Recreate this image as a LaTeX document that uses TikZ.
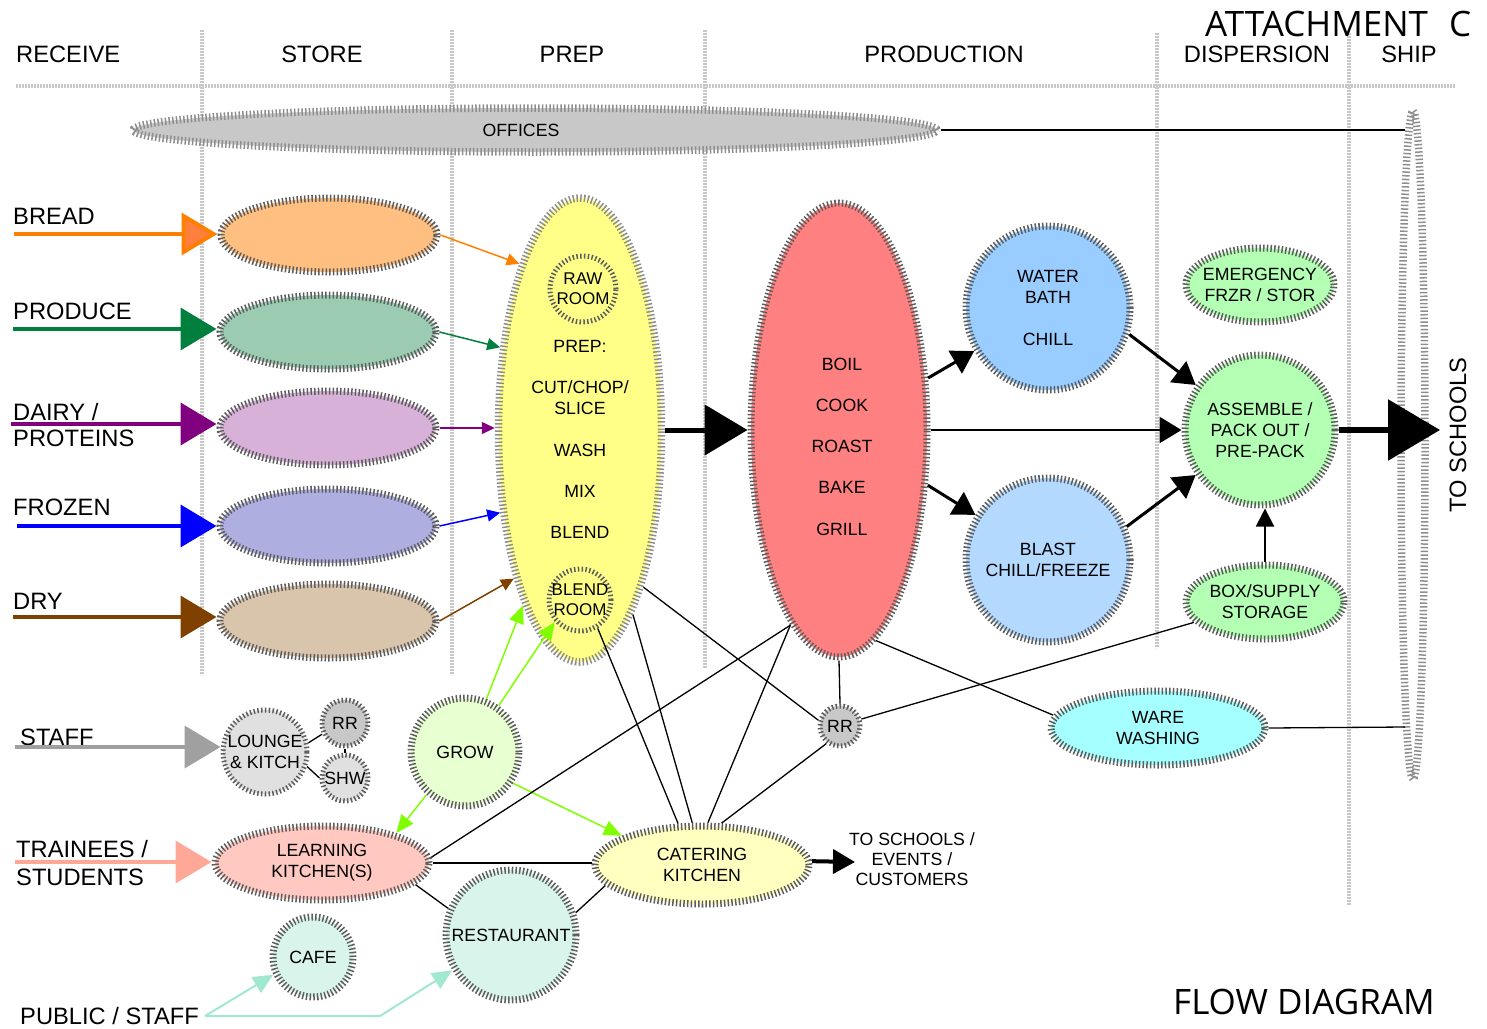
\documentclass[tikz,border=0pt]{standalone}
\usepackage{fontspec}
\setmainfont{Liberation Sans}
\newfontfamily\titlefont{Open Sans}
\usetikzlibrary{shapes.geometric,arrows.meta}
\newcommand{\fsz}[2]{\fontsize{#1}{#2}\selectfont}
\definecolor{hatchc}{HTML}{5E5E5E}
\definecolor{hatchl}{HTML}{8E8E8E}
\definecolor{gridc}{HTML}{C8C8C8}
\definecolor{cOr}{HTML}{FF8000}
\definecolor{cOrH}{HTML}{FF7F3F}
\definecolor{cGrn}{HTML}{007F3F}
\definecolor{cPur}{HTML}{800080}
\definecolor{cBlu}{HTML}{0000FF}
\definecolor{cBrn}{HTML}{804000}
\definecolor{cStaff}{HTML}{A0A0A0}
\definecolor{cTrain}{HTML}{FFA898}
\definecolor{cLime}{HTML}{80FF00}
\definecolor{cAqua}{HTML}{A0E8D0}
\definecolor{fBread}{HTML}{FFBF80}
\definecolor{fProduce}{HTML}{9BCCB2}
\definecolor{fDairy}{HTML}{D8B1D8}
\definecolor{fFroz}{HTML}{AEAFE0}
\definecolor{fDry}{HTML}{D9C4AC}
\definecolor{fPrep}{HTML}{FFFF88}
\definecolor{fProdn}{HTML}{FF8080}
\definecolor{fWater}{HTML}{99CCFF}
\definecolor{fBlast}{HTML}{B3D9FF}
\definecolor{fGreen}{HTML}{B3FFB3}
\definecolor{fWare}{HTML}{A6FFFF}
\definecolor{fLounge}{HTML}{E0E0E0}
\definecolor{fRR}{HTML}{C8C8C8}
\definecolor{fGrow}{HTML}{E8FFD2}
\definecolor{fLearn}{HTML}{FFC8C0}
\definecolor{fCater}{HTML}{FFFFC0}
\definecolor{fRest}{HTML}{D9F5EB}
\definecolor{fOff}{HTML}{C8C8C8}
\begin{document}
\begin{tikzpicture}[x=1pt,y=-1pt,
  hatch/.style={draw=hatchc,line width=7pt,dash pattern=on 1.5pt off 2.2pt},
  hatchlt/.style={draw=hatchl,line width=7.5pt,dash pattern=on 1.5pt off 2.2pt},
  hatchsm/.style={draw=hatchc,line width=5pt,dash pattern=on 1.5pt off 2.3pt},
  gridln/.style={draw=gridc,line width=3.5pt,dash pattern=on 2pt off 1pt},
  ell/.style={ellipse,inner sep=0pt},
  circ/.style={circle,inner sep=0pt},
  lbl/.style={inner sep=0pt,font=\fsz{17.7}{21},align=center},
  hdr/.style={inner sep=0pt,font=\fsz{23.7}{28},anchor=base},
  side/.style={inner sep=0pt,font=\fsz{23.7}{28},anchor=base west},
  feed/.style 2 args={line width=4pt,draw=#1,-{Triangle[length=36pt,width=42pt,fill=#2]}},
  feedthin/.style={line width=1.5pt,draw=#1,-{Triangle[length=13pt,width=12pt,fill=#1]}},
  grn/.style={line width=1.5pt,draw=cLime,-{Triangle[length=18pt,width=15pt,fill=cLime]}},
  pub/.style={line width=2pt,draw=cAqua,-{Triangle[length=20pt,width=18pt,fill=cAqua]}},
  conn/.style={line width=1.3pt,draw=black},
  blk/.style={line width=3pt,draw=black,-{Triangle[length=22pt,width=26pt]}},
]
\useasboundingbox (0,0) rectangle (1487,1028);

% grid lines
\draw[gridln] (16,86) -- (1455,86);
\draw[gridln] (202,30) -- (202,675);
\draw[gridln] (452,30) -- (452,675);
\draw[gridln] (705,30) -- (705,668);
\draw[gridln] (1157,33) -- (1157,648);
\draw[gridln] (1349,33) -- (1349,905);

% headers
\node[hdr,anchor=base west] (hrec) at (16,62) {RECEIVE};
\node[hdr] (hsto) at (322,62) {STORE};
\node[hdr] (hprep) at (572,62) {PREP};
\node[hdr] (hprod) at (944,62) {PRODUCTION};
\node[hdr] (hdisp) at (1257,62) {DISPERSION};
\node[hdr] (hship) at (1409,62) {SHIP};
\node[anchor=base west,inner sep=0pt,font=\titlefont\fsz{35}{40}] (att) at (1205,36) {ATTACHMENT\hspace{0.6em}C};
\node[anchor=base west,inner sep=0pt,font=\titlefont\fsz{35}{40}] (flow) at (1173,1014) {FLOW DIAGRAM};

% offices and to-schools
\node[ell,hatchlt,fill=fOff,minimum width=804pt,minimum height=44pt] (off) at (535,130) {};
\node[lbl] (offt) at (521,130) {OFFICES};
\node[ell,hatchlt,fill=white,minimum width=24pt,minimum height=668pt] (ts) at (1413,445) {};
\node[inner sep=0pt,font=\fsz{23.7}{28},rotate=90] (tst) at (1458,435) {TO SCHOOLS};

% store
\node[ell,hatch,fill=fBread,minimum width=216pt,minimum height=74pt] (sbread) at (329,235) {};
\node[ell,hatch,fill=fProduce,minimum width=216pt,minimum height=74pt] (sprod) at (328,332) {};
\node[ell,hatch,fill=fDairy,minimum width=216pt,minimum height=74pt] (sdairy) at (328,428) {};
\node[ell,hatch,fill=fFroz,minimum width=216pt,minimum height=74pt] (sfroz) at (328,526) {};
\node[ell,hatch,fill=fDry,minimum width=216pt,minimum height=74pt] (sdry) at (328,621) {};

% left labels
\node[side] (lbread) at (13,224) {BREAD};
\node[side] (lprodu) at (13,319) {PRODUCE};
\node[side] (ldairy) at (13,420) {DAIRY /};
\node[side] (ldairy2) at (13,446) {PROTEINS};
\node[side] (lfroz) at (13,515) {FROZEN};
\node[side] (ldry) at (13,609) {DRY};
\node[side] (lstaff) at (20,745) {STAFF};
\node[side] (ltrain) at (16,857) {TRAINEES /};
\node[side] (ltrain2) at (16,885) {STUDENTS};
\node[side] (lpub) at (20,1024) {PUBLIC / STAFF};

% prep
\node[ell,hatchlt,fill=fPrep,minimum width=163pt,minimum height=464pt] (prep) at (580,430) {};
\node[lbl] (tprep) at (580,346) {PREP:};
\node[lbl] (tcut) at (580,397.5) {CUT/CHOP/\\SLICE};
\node[lbl] (twash) at (580,450) {WASH};
\node[lbl] (tmix) at (580,491) {MIX};
\node[lbl] (tblend) at (580,532) {BLEND};
\node[circ,hatchsm,fill=fPrep,minimum size=66pt,label={[lbl,font=\fsz{17}{20}]center:{RAW\\ROOM}}] (raw) at (583,289) {};
\node[circ,hatchsm,fill=fPrep,minimum size=62pt,label={[lbl,font=\fsz{17}{20}]center:{BLEND\\ROOM}}] (blendr) at (580,600) {};

% production
\node[ell,hatch,fill=fProdn,minimum width=176pt,minimum height=454pt] (prod) at (839,430) {};
\node[lbl,font=\fsz{17.7}{41.3}] (tprod) at (842,446.5) {BOIL\\COOK\\ROAST\\BAKE\\GRILL};

\node[circ,hatch,fill=fWater,minimum size=164pt,label={[lbl]center:{WATER\\BATH\\[21pt]CHILL}}] (water) at (1048,308) {};
\node[circ,hatch,fill=fBlast,minimum size=164pt,label={[lbl]center:{BLAST\\CHILL/FREEZE}}] (blast) at (1048,560) {};

% dispersion
\node[ell,hatch,fill=fGreen,minimum width=148pt,minimum height=74pt,label={[lbl]center:{EMERGENCY\\FRZR / STOR}}] (emerg) at (1260,285) {};
\node[circ,hatch,fill=fGreen,minimum size=150pt,label={[lbl]center:{ASSEMBLE /\\PACK OUT /\\PRE-PACK}}] (assem) at (1260,430) {};
\node[ell,hatch,fill=fGreen,minimum width=158pt,minimum height=74pt,label={[lbl]center:{BOX/SUPPLY\\STORAGE}}] (box) at (1265,602) {};

\node[circ,hatchsm,fill=fRR,minimum size=40pt,label={[lbl]center:RR}] (rr2) at (840,726) {};
\node[ell,hatch,fill=fWare,minimum width=214pt,minimum height=74pt,label={[lbl]center:{WARE\\WASHING}}] (ware) at (1158,728) {};

% staff
\node[circ,hatchsm,fill=fLounge,minimum size=84pt,label={[lbl]center:{LOUNGE\\\& KITCH}}] (lounge) at (265,752) {};
\node[circ,hatchsm,fill=fRR,minimum size=46pt,label={[lbl]center:RR}] (rrs) at (345,723) {};
\node[circ,hatchsm,fill=fLounge,minimum size=46pt,label={[lbl]center:SHW}] (shw) at (345,778) {};

\node[circ,hatch,fill=fGrow,minimum size=108pt,label={[lbl]center:GROW}] (grow) at (465,752) {};
\node[ell,hatch,fill=fLearn,minimum width=214pt,minimum height=74pt,label={[lbl]center:{LEARNING\\KITCHEN(S)}}] (learn) at (322,863) {};
\node[ell,hatch,fill=fCater,minimum width=214pt,minimum height=78pt,label={[lbl]center:{CATERING\\KITCHEN}}] (cater) at (702,865) {};
\node[circ,hatch,fill=fRest,minimum size=130pt,label={[lbl]center:RESTAURANT}] (rest) at (511,935) {};
\node[circ,hatch,fill=fRest,minimum size=80pt,label={[lbl]center:CAFE}] (cafe) at (313,957) {};
\node[lbl,font=\fsz{17.7}{20}] (tsev) at (912,859) {TO SCHOOLS /\\EVENTS /\\CUSTOMERS};

% coordinates
\coordinate (abread) at (14,234);
\coordinate (aprod) at (13,329);
\coordinate (adairy) at (11,424);
\coordinate (afroz) at (17,526);
\coordinate (adry) at (13,617);
\coordinate (astaff) at (15,747);
\coordinate (atrain) at (15,862);
\coordinate (pubs) at (205,1016);
\coordinate (pubbend) at (380,1016);
\coordinate (offend) at (1405,130);
\coordinate (wareend) at (1405,727);
\coordinate (tstip) at (1440,430);
\coordinate (cattip) at (855,862);

% feed arrows
\draw[feed={cOr}{cOrH}] (abread) -- (abread -| sbread.west);
\draw[feed={cGrn}{cGrn}] (aprod) -- (aprod -| sprod.west);
\draw[feed={cPur}{cPur}] (adairy) -- (adairy -| sdairy.west);
\draw[feed={cBlu}{cBlu}] (afroz) -- (afroz -| sfroz.west);
\draw[feed={cBrn}{cBrn}] (adry) -- (adry -| sdry.west);
\draw[feed={cStaff}{cStaff}] (astaff) -- (astaff -| lounge.west);
\draw[feed={cTrain}{cTrain}] (atrain) -- (atrain -| learn.west);

% store to prep
\draw[feedthin=cOr] (sbread.east) -- (prep.110.8);
\draw[feedthin=cGrn] (sprod.east) -- (prep.134.6);
\draw[feedthin=cPur] (sdairy.east) -- (sdairy.east -| prep.west);
\draw[feedthin=cBlu] (sfroz.east) -- (prep.-134.3);
\draw[feedthin=cBrn] (sdry.east) -- (prep.-114.7);

% main flow
\draw[line width=5pt,-{Triangle[length=43pt,width=50pt]}] (prep.east) -- (prod.west);
\draw[blk] (prod) -- (water);
\draw[blk] (prod) -- (blast);
\draw[blk,line width=2.5pt] (prod.east) -- (assem.west);
\draw[blk] (water.-18) -- (assem.145);
\draw[blk] (blast.23) -- (assem.-145);
\draw[line width=2pt,-{Triangle[length=18pt,width=18pt]}] (box.north) -- (box.north |- assem.south);
\draw[line width=6pt,-{Triangle[length=52pt,width=60pt]}] (assem.east) -- (tstip);
\draw[line width=4pt,-{Triangle[length=22pt,width=24pt]}] (cater.2) -- (cattip);

% grow
\draw[grn] (grow.68) -- (prep.252.6);
\draw[grn] (grow.54) -- (blendr.221);
\draw[grn] (grow.228) -- (learn.22);
\draw[grn] (grow.-33) -- (cater.160);

% public
\draw[pub] (pubs) -- (cafe.204);
\draw[pub] (pubs) -- (pubbend) -- (rest.211);

% black connectors
\draw[conn] (off.east) -- (offend);
\draw[conn] (ware.east) -- (wareend);
\draw[conn] (prep.-68.6) -- (rr2.165);
\draw[conn] (prep.-74.9) -- (cater.103);
\draw[conn] (blendr.-58.7) -- (cater.120);
\draw[conn] (prod.-104.4) -- (cater.82);
\draw[conn] (learn.3) -- (prod.-104.4);
\draw[conn] (rr2.-128) -- (cater.65);
\draw[conn] (rr2.18) -- (box.196);
\draw[conn] (prod.-80.5) -- (ware.173.5);
\draw[conn] (prod.south) -- (rr2.north);
\draw[conn] (learn.east) -- (learn.east -| cater.west);
\draw[conn] (learn.-13.3) -- (rest.157.7);
\draw[conn] (rest.19) -- (cater.192.5);
\draw[conn] (lounge.12.7) -- (rrs.206.6);
\draw[conn] (lounge.-19) -- (shw.180);
\draw[conn] (rrs.south) -- (shw.north);
\end{tikzpicture}
\end{document}
